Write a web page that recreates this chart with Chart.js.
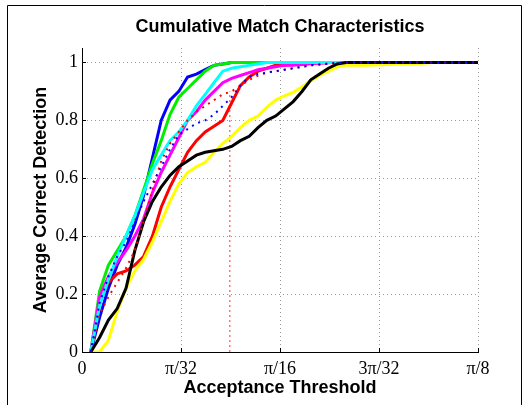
<!DOCTYPE html>
<html>
<head>
<meta charset="utf-8">
<script src="https://cdn.jsdelivr.net/npm/chart.js@4"></script>
<style>
  body { margin: 0; background: #fff; }
  #wrap { width: 529px; height: 405px; }
</style>
</head>
<body>
<div id="wrap"><canvas id="cmc" width="529" height="405"></canvas></div>
<script>
// acceptance threshold in degrees (pi/8 = 22.5 deg)
const thresholdDeg = [0.5, 1, 1.5, 2, 2.5, 3, 3.5, 4, 4.5, 5, 5.5, 6, 6.5, 7, 7.5, 8, 8.5, 9, 9.5, 10,
                      10.5, 11, 11.5, 12, 12.5, 13, 13.5, 14, 14.5, 15, 16, 17, 18, 19, 20, 21, 22.5];

const blueVals    = [0, 0.12, 0.22, 0.30, 0.36, 0.44, 0.54, 0.67, 0.80, 0.87, 0.90, 0.95, 0.96, 0.975, 0.99, 0.995, 1, 1, 1, 1,
                     1, 1, 1, 1, 1, 1, 1, 1, 1, 1, 1, 1, 1, 1, 1, 1, 1];
const greenVals   = [0, 0.21, 0.30, 0.35, 0.40, 0.47, 0.56, 0.65, 0.73, 0.82, 0.88, 0.91, 0.94, 0.97, 0.99, 0.995, 1, 1, 1, 1,
                     1, 1, 1, 1, 1, 1, 1, 1, 1, 1, 1, 1, 1, 1, 1, 1, 1];
const cyanVals    = [0, 0.16, 0.25, 0.33, 0.40, 0.47, 0.55, 0.63, 0.68, 0.73, 0.76, 0.80, 0.85, 0.89, 0.93, 0.97, 0.98, 0.985, 0.99, 0.995,
                     1, 1, 1, 1, 1, 1, 1, 1, 1, 1, 1, 1, 1, 1, 1, 1, 1];
const magentaVals = [0, 0.19, 0.26, 0.31, 0.35, 0.40, 0.46, 0.55, 0.62, 0.68, 0.74, 0.80, 0.83, 0.87, 0.90, 0.93, 0.945, 0.955, 0.965, 0.975,
                     0.98, 0.985, 0.99, 0.99, 0.993, 0.996, 0.998, 0.999, 1, 1, 1, 1, 1, 1, 1, 1, 1];
const redVals     = [0, 0.17, 0.24, 0.27, 0.28, 0.30, 0.33, 0.40, 0.50, 0.57, 0.63, 0.69, 0.73, 0.76, 0.78, 0.80, 0.86, 0.92, 0.95, 0.97,
                     0.98, 0.99, 0.99, 0.993, 0.995, 0.997, 0.998, 1, 1, 1, 1, 1, 1, 1, 1, 1, 1];
const blackVals   = [0, 0.05, 0.11, 0.15, 0.22, 0.35, 0.45, 0.52, 0.57, 0.61, 0.64, 0.66, 0.68, 0.69, 0.695, 0.70, 0.71, 0.73, 0.745, 0.775,
                     0.80, 0.815, 0.84, 0.865, 0.90, 0.94, 0.96, 0.98, 0.995, 1, 1, 1, 1, 1, 1, 1, 1];
const yellowVals  = [0, 0, 0.04, 0.14, 0.22, 0.28, 0.32, 0.38, 0.45, 0.52, 0.58, 0.62, 0.64, 0.655, 0.69, 0.72, 0.745, 0.775, 0.80, 0.815,
                     0.845, 0.87, 0.885, 0.897, 0.915, 0.937, 0.955, 0.97, 0.985, 0.99, 0.99, 0.992, 0.994, 0.996, 1, 1, 1];
const redDotVals  = [0, 0.13, 0.19, 0.24, 0.29, 0.35, 0.45, 0.56, 0.66, 0.72, 0.76, 0.80, 0.83, 0.85, 0.87, 0.89, 0.90, 0.92, 0.94, 0.955,
                     0.965, 0.97, 0.975, 0.98, 0.985, 0.99, 0.993, 0.996, 0.998, 1, 1, 1, 1, 1, 1, 1, 1];
const blueDotVals = [0, 0.17, 0.26, 0.33, 0.38, 0.45, 0.52, 0.58, 0.64, 0.70, 0.75, 0.77, 0.79, 0.80, 0.82, 0.85, 0.88, 0.92, 0.95, 0.96,
                     0.965, 0.97, 0.975, 0.98, 0.985, 0.99, 0.993, 0.996, 0.998, 1, 1, 1, 1, 1, 1, 1, 1];

// vertical marker line
const markerDeg = 8.4;
const markerTop = 0.9;

const xTickDeg = [0, 5.625, 11.25, 16.875, 22.5];
const xTickLabels = ['0', 'π/32', 'π/16', '3π/32', 'π/8'];
const yTickVals = [0, 0.2, 0.4, 0.6, 0.8, 1];
const yTickLabels = ['0', '0.2', '0.4', '0.6', '0.8', '1'];

const titleText = 'Cumulative Match Characteristics';
const xTitle = 'Acceptance Threshold';
const yTitle = 'Average Correct Detection';

function pts(vals) {
    return thresholdDeg.map((x, i) => ({ x: x, y: vals[i] }));
}

function solid(vals, color, order) {
    return { data: pts(vals), borderColor: color, borderWidth: 3, pointRadius: 0, fill: false, tension: 0, order: order };
}

function dotted(vals, color, order) {
    return { data: pts(vals), borderColor: color, borderWidth: 2, borderDash: [2, 5], pointRadius: 0, fill: false, tension: 0, order: order };
}

const datasets = [
    dotted(blueDotVals, '#0000ff', 0),
    dotted(redDotVals, '#ff0000', 1),
    solid(blackVals, '#000000', 2),
    solid(yellowVals, '#ffff00', 3),
    solid(cyanVals, '#00ffff', 4),
    solid(magentaVals, '#ff00ff', 5),
    solid(redVals, '#ff0000', 6),
    solid(greenVals, '#00ee00', 7),
    solid(blueVals, '#0000ff', 8),
    { data: [{ x: markerDeg, y: 0 }, { x: markerDeg, y: markerTop }], borderColor: '#ff3333', borderWidth: 1,
      borderDash: [2, 3], pointRadius: 0, fill: false, order: 9 }
];

// frame, inward ticks and titles, drawn like the matlab figure
const textPlugin = {
    id: 'texts',
    afterDraw(chart) {
        const ctx = chart.ctx;
        const area = chart.chartArea;
        const xs = chart.scales.x;
        const ys = chart.scales.y;
        const cx = (area.left + area.right) / 2;
        ctx.save();
        ctx.strokeStyle = '#000';
        ctx.lineWidth = 1;
        ctx.beginPath();
        ctx.moveTo(7.5, 410);
        ctx.lineTo(7.5, 5.5);
        ctx.lineTo(521.5, 5.5);
        ctx.lineTo(521.5, 410);
        ctx.stroke();

        ctx.beginPath();
        xTickDeg.forEach(v => {
            const px = Math.round(xs.getPixelForValue(v)) + 0.5;
            ctx.moveTo(px, area.bottom);
            ctx.lineTo(px, area.bottom - 4);
        });
        yTickVals.forEach(v => {
            const py = Math.round(ys.getPixelForValue(v)) + 0.5;
            ctx.moveTo(area.left, py);
            ctx.lineTo(area.left + 4, py);
        });
        ctx.stroke();

        ctx.fillStyle = '#000';
        ctx.font = 'bold 18px "Liberation Sans", Arial, sans-serif';
        ctx.textAlign = 'center';
        ctx.textBaseline = 'alphabetic';
        ctx.fillText(titleText, cx, 32);
        ctx.fillText(xTitle, cx, 393);

        ctx.translate(46, (area.top + area.bottom) / 2);
        ctx.rotate(-Math.PI / 2);
        ctx.fillText(yTitle, 0, 0);
        ctx.restore();
    }
};

new Chart(document.getElementById('cmc'), {
    type: 'line',
    data: { datasets: datasets },
    options: {
        responsive: false,
        animation: false,
        events: [],
        layout: { padding: { left: 0, right: 51, top: 48, bottom: 0 } },
        plugins: { legend: { display: false }, tooltip: { enabled: false }, title: { display: false } },
        scales: {
            x: {
                type: 'linear',
                min: 0,
                max: 22.5,
                afterBuildTicks: s => { s.ticks = xTickDeg.map(v => ({ value: v })); },
                afterFit: s => { s.height = 53; },
                ticks: {
                    callback: (v, i) => xTickLabels[i],
                    font: { family: '"Liberation Serif", "Times New Roman", serif', size: 18 },
                    color: '#000',
                    padding: 6,
                    maxRotation: 0,
                    autoSkip: false
                },
                grid: { color: '#999', lineWidth: 1, drawTicks: false },
                border: { color: '#000', width: 1, dash: [1, 3] }
            },
            y: {
                type: 'linear',
                min: 0,
                max: 1.05,
                afterBuildTicks: s => { s.ticks = yTickVals.map(v => ({ value: v })); },
                afterFit: s => { s.width = 82; },
                ticks: {
                    callback: (v, i) => yTickLabels[i],
                    font: { family: '"Liberation Serif", "Times New Roman", serif', size: 18 },
                    color: '#000',
                    padding: 4,
                    autoSkip: false
                },
                grid: { color: '#999', lineWidth: 1, drawTicks: false },
                border: { color: '#000', width: 1, dash: [1, 3] }
            }
        }
    },
    plugins: [textPlugin]
});
</script>
</body>
</html>
